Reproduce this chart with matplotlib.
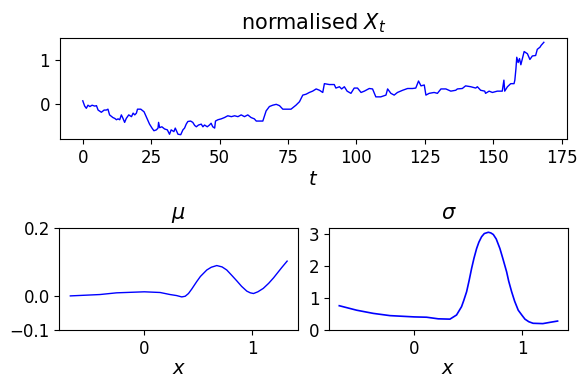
import numpy as np
import matplotlib
matplotlib.use('Agg')
import matplotlib.pyplot as plt

# normalised series
t_vals = [0, 0.7, 1.3, 1.9, 2.6, 3.4, 4.4, 5, 5.6, 6.8, 7.8, 8.6, 9.2, 9.8, 11, 11.7,
          12.3, 12.9, 13.5, 14.1, 14.7, 15.3, 15.9, 16.8, 17.8, 18.4, 19, 19.6, 20,
          21.2, 22.4, 23.2, 24.4, 25.3, 26, 26.9, 27.5, 27.7, 28.1, 28.9, 29.9, 30.9,
          31.7, 32.3, 33.3, 33.8, 34.8, 35.8, 36.6, 37.2, 37.8, 38.4, 39.4, 40.2, 40.9,
          41.5, 42.3, 43.3, 43.9, 44.5, 45.5, 46.3, 46.9, 47.5, 48.2, 48.5, 49.4, 50.6,
          51.8, 53, 54.3, 55.5, 56.7, 57.9, 59.1, 60.3, 61.5, 62.7, 63.4, 65.8, 67,
          68.2, 69.4, 70.7, 71.9, 73.1, 74.3, 76.1, 77.9, 79.2, 80.4, 81.6, 82.8, 84,
          85.3, 86.5, 87.7, 88.3, 90.1, 91.9, 92.5, 93.8, 94.6, 95.6, 96.6, 98, 99.2,
          100.4, 101.7, 102.9, 104.7, 105.9, 107.1, 108.9, 110.8, 111.4, 112.6, 113.8,
          115, 116.9, 118.7, 120.5, 121.7, 122.7, 123.6, 124.8, 125.4, 126.6, 128.4,
          129.6, 130.9, 132.7, 134.5, 136.3, 136.9, 138.7, 139.9, 141.8, 143.6, 144.2,
          145.4, 146.9, 147.2, 148.5, 149.7, 151.5, 153.3, 153.9, 154.2, 155.2, 156.4,
          157.6, 157.9, 158.3, 158.6, 159.1, 159.6, 160.1, 160.7, 161.3, 162.5, 163.4,
          164.3, 165.5, 166.1, 167.1, 167.5, 168.5]
x_vals = [0.08, -0.04, -0.09, -0.02, -0.05, -0.02, -0.04, -0.03, -0.13, -0.18, -0.13,
          -0.13, -0.11, -0.24, -0.30, -0.32, -0.35, -0.33, -0.35, -0.24, -0.32, -0.41,
          -0.32, -0.24, -0.28, -0.20, -0.24, -0.20, -0.11, -0.11, -0.17, -0.28, -0.45,
          -0.54, -0.60, -0.58, -0.54, -0.41, -0.53, -0.51, -0.56, -0.58, -0.68, -0.58,
          -0.62, -0.54, -0.68, -0.69, -0.58, -0.54, -0.45, -0.39, -0.38, -0.41, -0.48,
          -0.51, -0.47, -0.45, -0.51, -0.47, -0.51, -0.47, -0.43, -0.51, -0.54, -0.38,
          -0.35, -0.33, -0.30, -0.26, -0.28, -0.26, -0.28, -0.24, -0.28, -0.24, -0.30,
          -0.33, -0.38, -0.38, -0.15, -0.05, -0.02, 0.0, -0.03, -0.11, -0.11, -0.11,
          -0.02, 0.06, 0.21, 0.23, 0.27, 0.30, 0.35, 0.32, 0.27, 0.47, 0.45, 0.45, 0.37,
          0.40, 0.35, 0.40, 0.30, 0.25, 0.37, 0.37, 0.27, 0.30, 0.36, 0.35, 0.17, 0.17,
          0.21, 0.35, 0.25, 0.21, 0.27, 0.32, 0.36, 0.36, 0.37, 0.53, 0.42, 0.44, 0.21,
          0.25, 0.27, 0.25, 0.35, 0.35, 0.30, 0.32, 0.35, 0.36, 0.42, 0.40, 0.37, 0.40,
          0.32, 0.30, 0.25, 0.30, 0.27, 0.30, 0.30, 0.55, 0.30, 0.40, 0.47, 0.47, 0.55,
          0.81, 1.07, 0.95, 1.04, 0.90, 1.05, 1.20, 1.15, 1.02, 1.10, 1.11, 1.25, 1.30,
          1.34, 1.41]

# drift mu(x)
mu_x = [-0.68, -0.407, -0.253, 0.003, 0.148, 0.24, 0.30, 0.348, 0.38, 0.41, 0.44,
        0.486, 0.52, 0.579, 0.62, 0.671, 0.72, 0.763, 0.81, 0.856, 0.90, 0.948, 0.98,
        1.01, 1.05, 1.10, 1.15, 1.195, 1.23, 1.27, 1.32]
mu_y = [0.0, 0.004, 0.009, 0.012, 0.010, 0.004, 0.001, -0.003, -0.001, 0.007, 0.020,
        0.042, 0.057, 0.076, 0.084, 0.089, 0.085, 0.076, 0.060, 0.044, 0.028, 0.014,
        0.009, 0.007, 0.012, 0.022, 0.037, 0.053, 0.067, 0.083, 0.102]

# diffusion sigma(x)
sig_x = [-0.688, -0.528, -0.374, -0.22, 0.004, 0.118, 0.225, 0.333, 0.394, 0.44, 0.46,
         0.487, 0.51, 0.533, 0.555, 0.579, 0.60, 0.625, 0.65, 0.687, 0.71, 0.733, 0.76,
         0.794, 0.82, 0.856, 0.875, 0.902, 0.93, 0.963, 1.0, 1.025, 1.06, 1.10, 1.19,
         1.256, 1.326]
sig_y = [0.76, 0.62, 0.52, 0.45, 0.41, 0.40, 0.35, 0.34, 0.47, 0.73, 0.92, 1.20, 1.55,
         1.93, 2.25, 2.55, 2.75, 2.92, 3.02, 3.06, 3.04, 2.99, 2.85, 2.55, 2.25, 1.82,
         1.53, 1.20, 0.90, 0.62, 0.45, 0.34, 0.26, 0.21, 0.20, 0.24, 0.28]

plt.rcParams['font.size'] = 12

fig = plt.figure(figsize=(5.77, 3.75), dpi=100)

ax1 = fig.add_axes([0.1035, 0.6285, 0.879, 0.271])
ax1.plot(t_vals, x_vals, color='blue', linewidth=1)
ax1.set_title('normalised $X_t$', fontsize=15)
ax1.set_xlabel('$t$', fontsize=14, labelpad=2)
ax1.set_xticks([0, 25, 50, 75, 100, 125, 150, 175])

ax2 = fig.add_axes([0.1031, 0.12, 0.4133, 0.2728])
ax2.plot(mu_x, mu_y, color='blue', linewidth=1)
ax2.set_title(r'$\mu$', fontsize=15)
ax2.set_ylim(-0.1, 0.2)
ax2.set_yticks([-0.1, 0.0, 0.2])

ax3 = fig.add_axes([0.5707, 0.12, 0.4133, 0.2728])
ax3.plot(sig_x, sig_y, color='blue', linewidth=1.2)
ax3.set_title(r'$\sigma$', fontsize=15)
ax3.set_ylim(bottom=0)
ax3.set_yticks([0, 1, 2, 3])

for ax in (ax2, ax3):
    ax.set_xlim(-0.78, 1.42)
    ax.set_xticks([0, 1])
    ax.set_xlabel('$x$', fontsize=14, labelpad=1)

fig.savefig('out.png', dpi=100)
